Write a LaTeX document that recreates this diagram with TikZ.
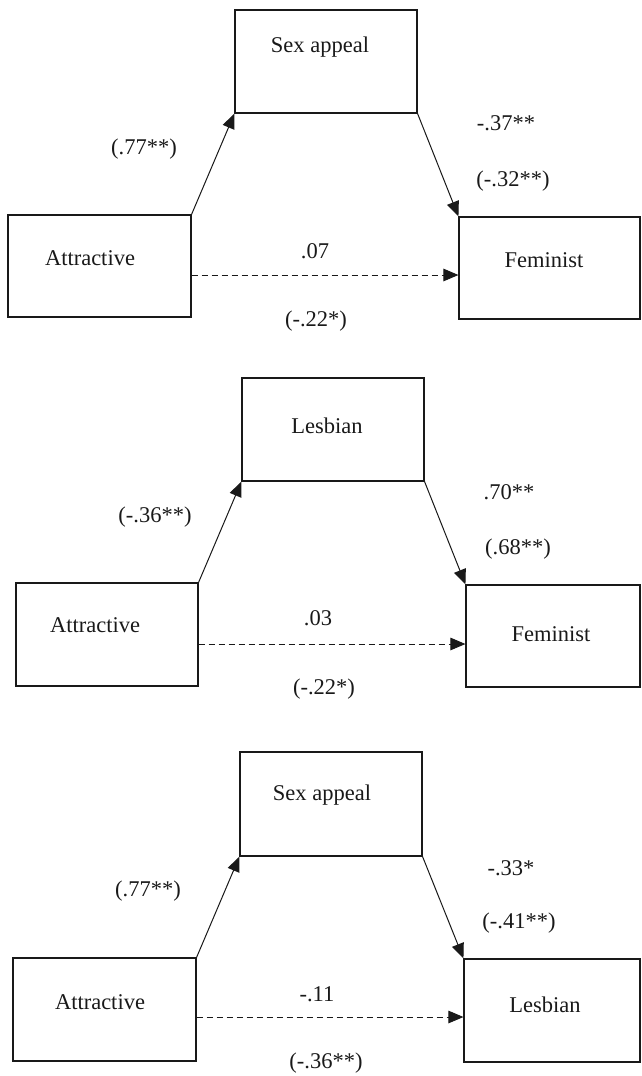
\documentclass[tikz,border=0pt]{standalone}
\usepackage{fontspec}
\setmainfont{Liberation Serif}
\usetikzlibrary{arrows.meta}
\tikzset{
  box/.style={draw=black!90, line width=1.1pt, inner sep=0pt},
  txt/.style={inner sep=0pt, text height=15pt, text depth=0pt, font=\fontsize{22.5}{27}\selectfont, text=black!90},
  conn/.style={line width=1pt, draw=black!90, -{Triangle[length=15pt,width=12.5pt]}},
  dconn/.style={conn, dash pattern=on 6pt off 4pt}
}
\begin{document}
\begin{tikzpicture}[x=1pt,y=-1pt]
\useasboundingbox (0,0) rectangle (641,1076);
% ---------- Panel 1 ----------
\node[box, minimum width=182pt, minimum height=103pt] (sa1) at (326,61.5) {};
\node[box, minimum width=183pt, minimum height=102pt] (at1) at (99.5,266) {};
\node[box, minimum width=181pt, minimum height=102pt] (fe1) at (549.5,268) {};
\node[txt] (sa1t) at (320,45) {Sex appeal};
\node[txt] (at1t) at (90,258) {Attractive};
\node[txt] (fe1t) at (544,260) {Feminist};
\draw[conn] (at1.north east) -- (sa1.south west);
\draw[conn] (sa1.south east) -- (fe1.north west);
\draw[dconn] ([yshift=-9pt]at1.east) -- ([yshift=-9pt]at1.east -| fe1.west);
\node[txt] (l11) at (144,147) {(.77**)};
\node[txt] (l12) at (506,123) {-.37**};
\node[txt] (l13) at (513,179) {(-.32**)};
\node[txt] (l14) at (315,251) {.07};
\node[txt] (l15) at (316,319) {(-.22*)};
% ---------- Panel 2 ----------
\node[box, minimum width=182pt, minimum height=103pt] (le2) at (333,429.5) {};
\node[box, minimum width=182pt, minimum height=103pt] (at2) at (107,634.5) {};
\node[box, minimum width=174pt, minimum height=102pt] (fe2) at (553,636) {};
\node[txt] (le2t) at (327,426) {Lesbian};
\node[txt] (at2t) at (95,625) {Attractive};
\node[txt] (fe2t) at (551,634) {Feminist};
\draw[conn] (at2.north east) -- (le2.south west);
\draw[conn] (le2.south east) -- (fe2.north west);
\draw[dconn] ([yshift=-9.5pt]at2.east) -- ([yshift=-9.5pt]at2.east -| fe2.west);
\node[txt] (l21) at (155,515) {(-.36**)};
\node[txt] (l22) at (509,492) {.70**};
\node[txt] (l23) at (518,547) {(.68**)};
\node[txt] (l24) at (318,618) {.03};
\node[txt] (l25) at (324,687) {(-.22*)};
% ---------- Panel 3 ----------
\node[box, minimum width=182pt, minimum height=104pt] (sa3) at (331,804) {};
\node[box, minimum width=183pt, minimum height=103pt] (at3) at (104.5,1009.5) {};
\node[box, minimum width=176pt, minimum height=103pt] (le3) at (552,1010.5) {};
\node[txt] (sa3t) at (322,793) {Sex appeal};
\node[txt] (at3t) at (100,1002) {Attractive};
\node[txt] (le3t) at (545,1005) {Lesbian};
\draw[conn] (at3.north east) -- (sa3.south west);
\draw[conn] (sa3.south east) -- (le3.north west);
\draw[dconn] ([yshift=-7.5pt]at3.east) -- ([yshift=-7.5pt]at3.east -| le3.west);
\node[txt] (l31) at (148,889) {(.77**)};
\node[txt] (l32) at (511,868) {-.33*};
\node[txt] (l33) at (519,921) {(-.41**)};
\node[txt] (l34) at (317,994) {-.11};
\node[txt] (l35) at (326,1061) {(-.36**)};
\end{tikzpicture}
\end{document}
